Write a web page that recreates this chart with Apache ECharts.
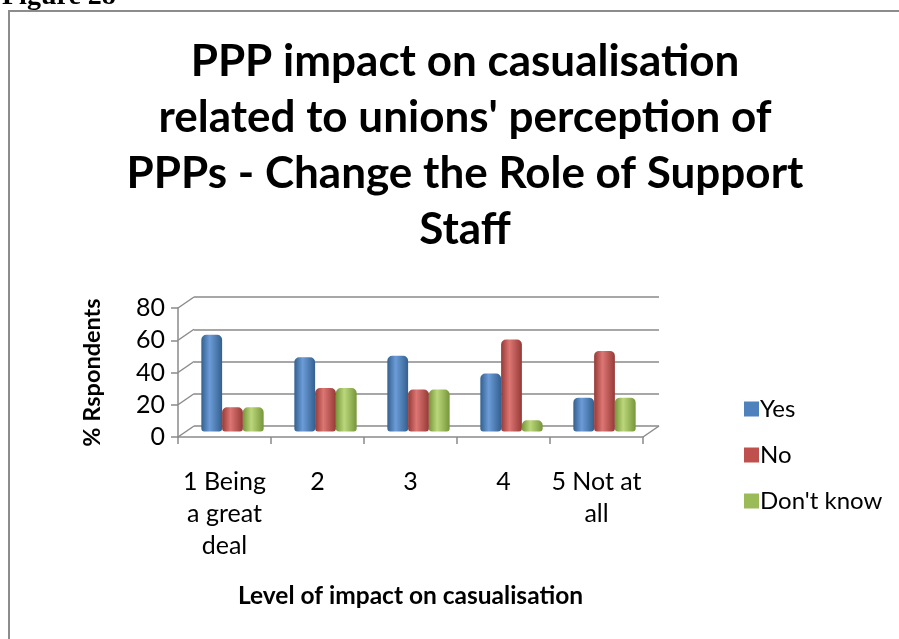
<!DOCTYPE html>
<html>
<head>
<meta charset="utf-8">
<script src="https://cdn.jsdelivr.net/npm/echarts@6/dist/echarts.min.js"></script>
<style>
html,body{margin:0;padding:0;background:#fff;}
#chart{width:899px;height:639px;}
</style>
</head>
<body>
<div id="chart"></div>
<script>
// ---- data ----
const categories = ['1 Being\na great\ndeal', '2', '3', '4', '5 Not at\nall'];
const seriesNames = ['Yes', 'No', "Don't know"];
const yesValues = [60, 46, 47, 36, 21];
const noValues = [15, 27, 26, 57, 50];
const dontKnowValues = [15, 27, 26, 7, 21];
const yMin = 0, yMax = 80, yInterval = 20;
const titleText = "PPP impact on casualisation\nrelated to unions' perception of\nPPPs - Change the Role of Support\nStaff";
const yAxisTitle = '% Rspondents';
const xAxisTitle = 'Level of impact on casualisation';
const figureLabel = 'Figure 28';

// ---- layout / style ----
const FONT = 'Lato, "Open Sans", sans-serif';
const GRID_LINE = '#8a8a8a';
const FRONT = {left: 178, top: 308, width: 465, height: 129};
const MID = {dx: 8, dy: -5.5};
const BACK = {dx: 16, dy: -11};

function cyl(dark, light) {
  return new echarts.graphic.LinearGradient(0, 0, 1, 0, [
    {offset: 0, color: dark},
    {offset: 0.4, color: light},
    {offset: 1, color: dark}
  ]);
}
const colors = [
  {base: '#4F81BD', fill: cyl('#33608f', '#6c9cd8')},
  {base: '#C0504D', fill: cyl('#963a37', '#dc7673')},
  {base: '#9BBB59', fill: cyl('#76963a', '#bcd77b')}
];

function gridAt(d) {
  return {left: FRONT.left + d.dx, top: FRONT.top + d.dy, width: FRONT.width, height: FRONT.height};
}

const chart = echarts.init(document.getElementById('chart'), null, {renderer: 'canvas'});
const valueSets = [yesValues, noValues, dontKnowValues];

const option = {
  animation: false,
  backgroundColor: '#fff',
  title: {
    text: titleText,
    left: 460,
    top: 29,
    textAlign: 'center',
    textStyle: {fontFamily: FONT, fontWeight: 'bold', fontSize: 44, lineHeight: 56, color: '#000'}
  },
  legend: {
    orient: 'vertical',
    left: 739,
    top: 391,
    itemWidth: 15,
    itemHeight: 15,
    itemGap: 20,
    icon: 'rect',
    data: seriesNames.map((n, i) => ({name: n, itemStyle: {color: colors[i].base}})),
    textStyle: {fontFamily: FONT, fontSize: 24, lineHeight: 26, color: '#000', padding: [0, 0, 0, -4]}
  },
  grid: [
    Object.assign({}, FRONT),
    gridAt(MID),
    gridAt(BACK)
  ],
  xAxis: [
    {
      gridIndex: 0, type: 'category', data: categories,
      axisLine: {show: true, lineStyle: {color: GRID_LINE, width: 1.5}},
      axisTick: {show: true, length: 7, lineStyle: {color: GRID_LINE, width: 1.5}},
      axisLabel: {fontFamily: FONT, fontSize: 25, lineHeight: 32, color: '#000', margin: 29, interval: 0},
      name: xAxisTitle, nameLocation: 'middle', nameGap: 147,
      nameTextStyle: {fontFamily: FONT, fontSize: 24.5, fontWeight: 'bold', color: '#000'}
    },
    {gridIndex: 1, type: 'category', data: categories, show: false},
    {gridIndex: 2, type: 'category', data: categories, show: false}
  ],
  yAxis: [
    {
      gridIndex: 0, type: 'value', min: yMin, max: yMax, interval: yInterval,
      axisLine: {show: true, lineStyle: {color: GRID_LINE, width: 1.5}},
      axisTick: {show: true, length: 7, lineStyle: {color: GRID_LINE, width: 1.5}},
      axisLabel: {fontFamily: FONT, fontSize: 25, color: '#000', margin: 13},
      splitLine: {show: false},
      name: yAxisTitle, nameLocation: 'middle', nameRotate: 90, nameGap: 74,
      nameTextStyle: {fontFamily: FONT, fontSize: 23.5, fontWeight: 'bold', color: '#000'}
    },
    {gridIndex: 1, type: 'value', min: yMin, max: yMax, interval: yInterval, show: false, splitLine: {show: false}},
    {
      gridIndex: 2, type: 'value', min: yMin, max: yMax, interval: yInterval,
      axisLine: {show: false}, axisTick: {show: false}, axisLabel: {show: false},
      splitLine: {show: true, lineStyle: {color: GRID_LINE, width: 1.5}}
    }
  ],
  series: seriesNames.map((name, i) => ({
    name: name,
    type: 'bar',
    xAxisIndex: 1,
    yAxisIndex: 1,
    data: valueSets[i],
    barGap: '0%',
    barCategoryGap: '33%',
    itemStyle: {color: colors[i].fill, borderRadius: [5, 5, 3, 3]}
  })),
  color: colors.map(c => c.base)
};
chart.setOption(option);

// 3D frame edges: connect the front axis to the back wall
const lines = [];
for (let v = yMin; v <= yMax; v += yInterval) {
  const yf = chart.convertToPixel({yAxisIndex: 0}, v);
  const yb = chart.convertToPixel({yAxisIndex: 2}, v);
  lines.push({type: 'line', silent: true,
    shape: {x1: FRONT.left, y1: yf, x2: FRONT.left + BACK.dx, y2: yb},
    style: {stroke: GRID_LINE, lineWidth: 1.5}});
}
const yf0 = chart.convertToPixel({yAxisIndex: 0}, yMin);
const yb0 = chart.convertToPixel({yAxisIndex: 2}, yMin);
lines.push({type: 'line', silent: true,
  shape: {x1: FRONT.left + FRONT.width, y1: yf0, x2: FRONT.left + FRONT.width + BACK.dx, y2: yb0},
  style: {stroke: GRID_LINE, lineWidth: 1.5}});

chart.setOption({
  graphic: lines.concat([
    {type: 'rect', silent: true, z: -1,
      shape: {x: 9, y: 11, width: 960, height: 700},
      style: {fill: 'none', stroke: '#8c8c8c', lineWidth: 2}},
    {type: 'text', silent: true, left: 2, top: -17,
      style: {text: figureLabel, font: 'bold 28px "Liberation Serif", serif', fill: '#000'}}
  ])
});
</script>
</body>
</html>
